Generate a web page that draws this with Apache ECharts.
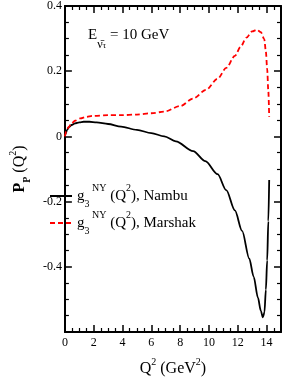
<!DOCTYPE html>
<html>
<head>
<meta charset="utf-8">
<script src="https://cdn.jsdelivr.net/npm/echarts@6/dist/echarts.min.js"></script>
<style>
html,body{margin:0;padding:0;background:#fff;}
#c{width:284px;height:382px;}
</style>
</head>
<body>
<div id="c"></div>
<script>
// Q^2 values (GeV^2) and P_P for each form factor model
var nambuQ2 = [0, 0.05, 0.15, 0.3, 0.46, 0.7, 1.0, 1.3, 1.7, 2.2, 3.0, 3.9, 5.0, 6.0, 6.9, 7.7, 8.9, 9.75, 10.6, 11.2, 11.8, 12.3, 12.8, 13.1, 13.4, 13.6, 13.74, 13.85, 13.95, 14.04, 14.12, 14.18];
var nambuPP = [0, 0.008, 0.02, 0.029, 0.035, 0.040, 0.043, 0.045, 0.045, 0.043, 0.038, 0.030, 0.020, 0.010, 0.0, -0.015, -0.045, -0.076, -0.116, -0.165, -0.227, -0.29, -0.375, -0.43, -0.495, -0.535, -0.555, -0.54, -0.47, -0.38, -0.26, -0.134];
var marshakQ2 = [0, 0.1, 0.25, 0.46, 0.7, 1.07, 1.5, 1.9, 3.0, 3.9, 5.0, 6.0, 6.9, 8.0, 8.9, 9.8, 10.6, 11.2, 11.8, 12.2, 12.6, 13.0, 13.33, 13.6, 13.84, 13.95, 14.04, 14.12, 14.18];
var marshakPP = [0, 0.015, 0.028, 0.040, 0.048, 0.055, 0.060, 0.063, 0.065, 0.065, 0.067, 0.071, 0.076, 0.093, 0.116, 0.143, 0.177, 0.21, 0.247, 0.275, 0.303, 0.322, 0.327, 0.32, 0.298, 0.26, 0.207, 0.14, 0.06];
var seriesNames = ['Nambu', 'Marshak'];
var xTickLabels = ['0', '2', '4', '6', '8', '10', '12', '14'];
var yTickLabels = ['-0.4', '-0.2', '0', '0.2', '0.4'];

function pairs(xs, ys) { return xs.map(function (x, i) { return [x, ys[i]]; }); }

var FF = 'Liberation Serif';
var chart = echarts.init(document.getElementById('c'));

function xAxisBase(pos, showLabel) {
  return {
    type: 'value', position: pos, min: 0, max: 15, interval: 2,
    axisLine: { show: true, onZero: false, lineStyle: { color: '#000', width: 2 } },
    axisTick: { show: true, inside: true, length: 7, lineStyle: { color: '#000', width: 1.5 } },
    minorTick: { show: true, splitNumber: 4, length: 4, lineStyle: { color: '#000', width: 1.2 } },
    splitLine: { show: false },
    axisLabel: {
      show: showLabel, color: '#000', fontFamily: FF, fontSize: 12, margin: 5,
      formatter: function (v) {
        var s = String(Math.round(v));
        return xTickLabels.indexOf(s) >= 0 ? s : '';
      }
    }
  };
}
function yAxisBase(pos, showLabel) {
  return {
    type: 'value', position: pos, min: -0.6, max: 0.4, interval: 0.2,
    axisLine: { show: true, onZero: false, lineStyle: { color: '#000', width: 2 } },
    axisTick: { show: true, inside: true, length: 7, lineStyle: { color: '#000', width: 1.5 } },
    minorTick: { show: true, splitNumber: 4, length: 4, lineStyle: { color: '#000', width: 1.2 } },
    splitLine: { show: false },
    axisLabel: {
      show: showLabel, color: '#000', fontFamily: FF, fontSize: 12, margin: 3,
      formatter: function (v) {
        var s = String(+(+v).toFixed(1));
        return yTickLabels.indexOf(s) >= 0 ? s : '';
      }
    }
  };
}

var xa = xAxisBase('bottom', true);
xa.name = '{t|Q}{sup|2}{t| (GeV}{sup|2}{t|)}';
xa.nameLocation = 'middle';
xa.nameGap = 25;
xa.nameTextStyle = {
  fontFamily: FF, color: '#000',
  rich: {
    t: { fontFamily: FF, fontSize: 16, color: '#000', lineHeight: 24, verticalAlign: 'middle' },
    sup: { fontFamily: FF, fontSize: 10, color: '#000', lineHeight: 12, verticalAlign: 'top' }
  }
};
var xb = xAxisBase('top', false);

var ya = yAxisBase('left', true);
ya.name = '{p|P}{ps|P}{t| (Q}{sup|2}{t|)}';
ya.nameLocation = 'middle';
ya.nameRotate = 90;
ya.nameGap = 22;
ya.nameTextStyle = {
  fontFamily: FF, color: '#000',
  rich: {
    p: { fontFamily: FF, fontSize: 16, fontWeight: 'bold', color: '#000', lineHeight: 24, verticalAlign: 'middle' },
    ps: { fontFamily: FF, fontSize: 10, fontWeight: 'bold', color: '#000', lineHeight: 10, verticalAlign: 'bottom' },
    t: { fontFamily: FF, fontSize: 16, color: '#000', lineHeight: 24, verticalAlign: 'middle' },
    sup: { fontFamily: FF, fontSize: 10, color: '#000', lineHeight: 12, verticalAlign: 'top' }
  }
};
var yb = yAxisBase('right', false);

var legendRich = {
  g: { fontFamily: FF, fontSize: 15, color: '#000', lineHeight: 26, verticalAlign: 'middle' },
  s3: { fontFamily: FF, fontSize: 10, color: '#000', lineHeight: 12, verticalAlign: 'bottom' },
  ny: { fontFamily: FF, fontSize: 10, color: '#000', lineHeight: 12, verticalAlign: 'top' },
  t: { fontFamily: FF, fontSize: 15, color: '#000', lineHeight: 26, verticalAlign: 'middle' },
  s2: { fontFamily: FF, fontSize: 10, color: '#000', lineHeight: 16, verticalAlign: 'top' }
};

chart.setOption({
  animation: false,
  backgroundColor: '#fff',
  grid: { left: 37, top: 6, right: 3, bottom: 47, containLabel: false },
  xAxis: [xa, xb],
  yAxis: [ya, yb],
  legend: {
    orient: 'vertical', left: 49, top: 183, padding: 0, itemWidth: 22, itemHeight: 8, itemGap: 1,
    data: seriesNames,
    itemStyle: { opacity: 0 },
    formatter: function (name) {
      return '{g|g}{s3|3}{ny| NY}{t| (Q}{s2|2}{t|), ' + name + '}';
    },
    textStyle: { rich: legendRich, fontFamily: FF, color: '#000' }
  },
  graphic: [{
    type: 'text', left: 88, top: 28,
    style: {
      text: '{e|E}{nu|ν̄}{tau|τ}{t| = 10 GeV}',
      rich: {
        e: { fontFamily: FF, fontSize: 15, fill: '#000', lineHeight: 30, verticalAlign: 'middle' },
        nu: { fontFamily: FF, fontSize: 12, fill: '#000', lineHeight: 10, verticalAlign: 'bottom' },
        tau: { fontFamily: FF, fontSize: 9, fill: '#000', lineHeight: 2, verticalAlign: 'bottom' },
        t: { fontFamily: FF, fontSize: 15, fill: '#000', lineHeight: 30, verticalAlign: 'middle' }
      }
    }
  }],
  series: [
    {
      name: seriesNames[0], type: 'line', symbol: 'none', smooth: 0.3, smoothMonotone: 'x',
      xAxisIndex: 0, yAxisIndex: 0,
      lineStyle: { color: '#000', width: 1.8, type: 'solid' },
      itemStyle: { color: '#000' },
      data: pairs(nambuQ2, nambuPP)
    },
    {
      name: seriesNames[1], type: 'line', symbol: 'none', smooth: 0.3, smoothMonotone: 'x',
      xAxisIndex: 0, yAxisIndex: 0,
      lineStyle: { color: '#ff0000', width: 1.8, type: [5, 3] },
      itemStyle: { color: '#ff0000' },
      data: pairs(marshakQ2, marshakPP)
    }
  ]
});
</script>
</body>
</html>
